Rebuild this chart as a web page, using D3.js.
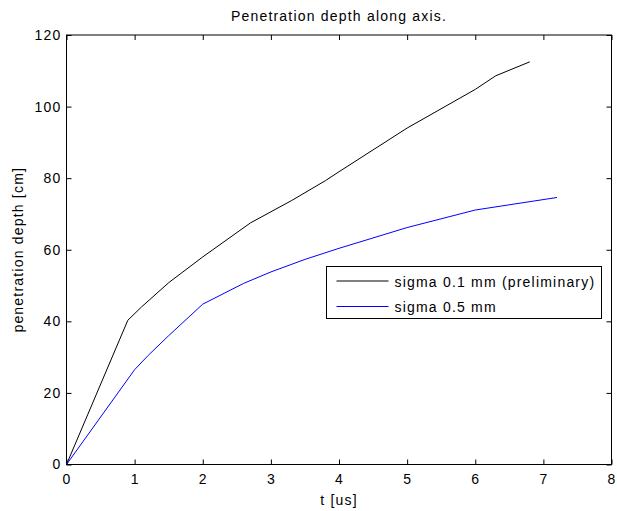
<!DOCTYPE html>
<html>
<head>
<meta charset="utf-8">
<script src="https://cdn.jsdelivr.net/npm/d3@7"></script>
<style>
  body { margin: 0; background: #fff; }
  text { font-family: "Liberation Sans", Arial, sans-serif; font-size: 14px; letter-spacing: 1.2px; }
</style>
</head>
<body>
<div id="chart"></div>
<script>
// data
const tFine = [0, 0.9, 1.1, 1.5, 2.0, 2.7, 3.3, 3.8, 4.0, 5.0, 6.0, 6.3, 6.8];
const depthFine = [0, 40.3, 44, 50.8, 58, 67.5, 73.7, 79.3, 81.8, 94, 104.8, 108.6, 112.5];
const tCoarse = [0, 1.0, 1.2, 1.5, 2.0, 2.6, 3.0, 3.5, 4.0, 5.0, 6.0, 7.2];
const depthCoarse = [0, 26.5, 30.5, 36, 44.8, 50.6, 53.8, 57.3, 60.4, 66.2, 71.1, 74.6];
const seriesNames = ["sigma 0.1 mm (preliminary)", "sigma 0.5 mm"];
const seriesColors = ["#000000", "#0000ff"];
const xTicks = [0, 1, 2, 3, 4, 5, 6, 7, 8];
const yTicks = [0, 20, 40, 60, 80, 100, 120];

const width = 617, height = 511;
const margin = { left: 66.5, right: 5.5, top: 35, bottom: 46.5 };
const innerW = width - margin.left - margin.right;
const innerH = height - margin.top - margin.bottom;

const svg = d3.select("#chart")
  .append("svg")
  .attr("width", width)
  .attr("height", height);

const x = d3.scaleLinear().domain([0, 8]).range([margin.left, margin.left + innerW]);
const y = d3.scaleLinear().domain([0, 120]).range([margin.top + innerH, margin.top]);

// axes box with inward ticks on all four sides
const styleAxis = (g) => {
  g.select(".domain").remove();
  g.selectAll("line").attr("stroke", "#000");
  g.selectAll("text").attr("fill", "#000").attr("font-size", null).attr("font-family", null);
};

svg.append("g")
  .attr("transform", `translate(0,${y(0)})`)
  .call(d3.axisBottom(x).tickValues(xTicks).tickFormat(d3.format("d")).tickSizeInner(-5).tickSizeOuter(0).tickPadding(10))
  .call(styleAxis);

svg.append("g")
  .attr("transform", `translate(0,${y(120)})`)
  .call(d3.axisTop(x).tickValues(xTicks).tickFormat("").tickSizeInner(-5).tickSizeOuter(0))
  .call(styleAxis);

svg.append("g")
  .attr("transform", `translate(${x(0)},0)`)
  .call(d3.axisLeft(y).tickValues(yTicks).tickFormat(d3.format("d")).tickSizeInner(-5).tickSizeOuter(0).tickPadding(5))
  .call(styleAxis);

svg.append("g")
  .attr("transform", `translate(${x(8)},0)`)
  .call(d3.axisRight(y).tickValues(yTicks).tickFormat("").tickSizeInner(-5).tickSizeOuter(0))
  .call(styleAxis);

svg.append("rect")
  .attr("x", x(0))
  .attr("y", y(120))
  .attr("width", x(8) - x(0))
  .attr("height", y(0) - y(120))
  .attr("fill", "none")
  .attr("stroke", "#000");

// lines
const line = d3.line().x((d) => x(d[0])).y((d) => y(d[1]));
const series = [
  d3.zip(tFine, depthFine),
  d3.zip(tCoarse, depthCoarse)
];

svg.append("g")
  .selectAll("path")
  .data(series)
  .join("path")
  .attr("d", line)
  .attr("fill", "none")
  .attr("stroke", (d, i) => seriesColors[i])
  .attr("stroke-width", 1);

// title and labels
svg.append("text")
  .attr("x", (x(0) + x(8)) / 2)
  .attr("y", 21)
  .attr("text-anchor", "middle")
  .text("Penetration depth along axis.");

svg.append("text")
  .attr("x", (x(0) + x(8)) / 2)
  .attr("y", 505)
  .attr("text-anchor", "middle")
  .text("t [us]");

svg.append("text")
  .attr("transform", `translate(23,${(y(0) + y(120)) / 2}) rotate(-90)`)
  .attr("text-anchor", "middle")
  .text("penetration depth [cm]");

// legend
const legend = svg.append("g").attr("transform", "translate(326.5,266.5)");
legend.append("rect")
  .attr("width", 275)
  .attr("height", 52)
  .attr("fill", "#fff")
  .attr("stroke", "#000");

const rows = legend.selectAll("g")
  .data(seriesNames)
  .join("g")
  .attr("transform", (d, i) => `translate(0,${14.5 + i * 25.5})`);

rows.append("line")
  .attr("x1", 10)
  .attr("x2", 62)
  .attr("stroke", (d, i) => seriesColors[i]);

rows.append("text")
  .attr("x", 68)
  .attr("y", 5.5)
  .text((d) => d);
</script>
</body>
</html>
